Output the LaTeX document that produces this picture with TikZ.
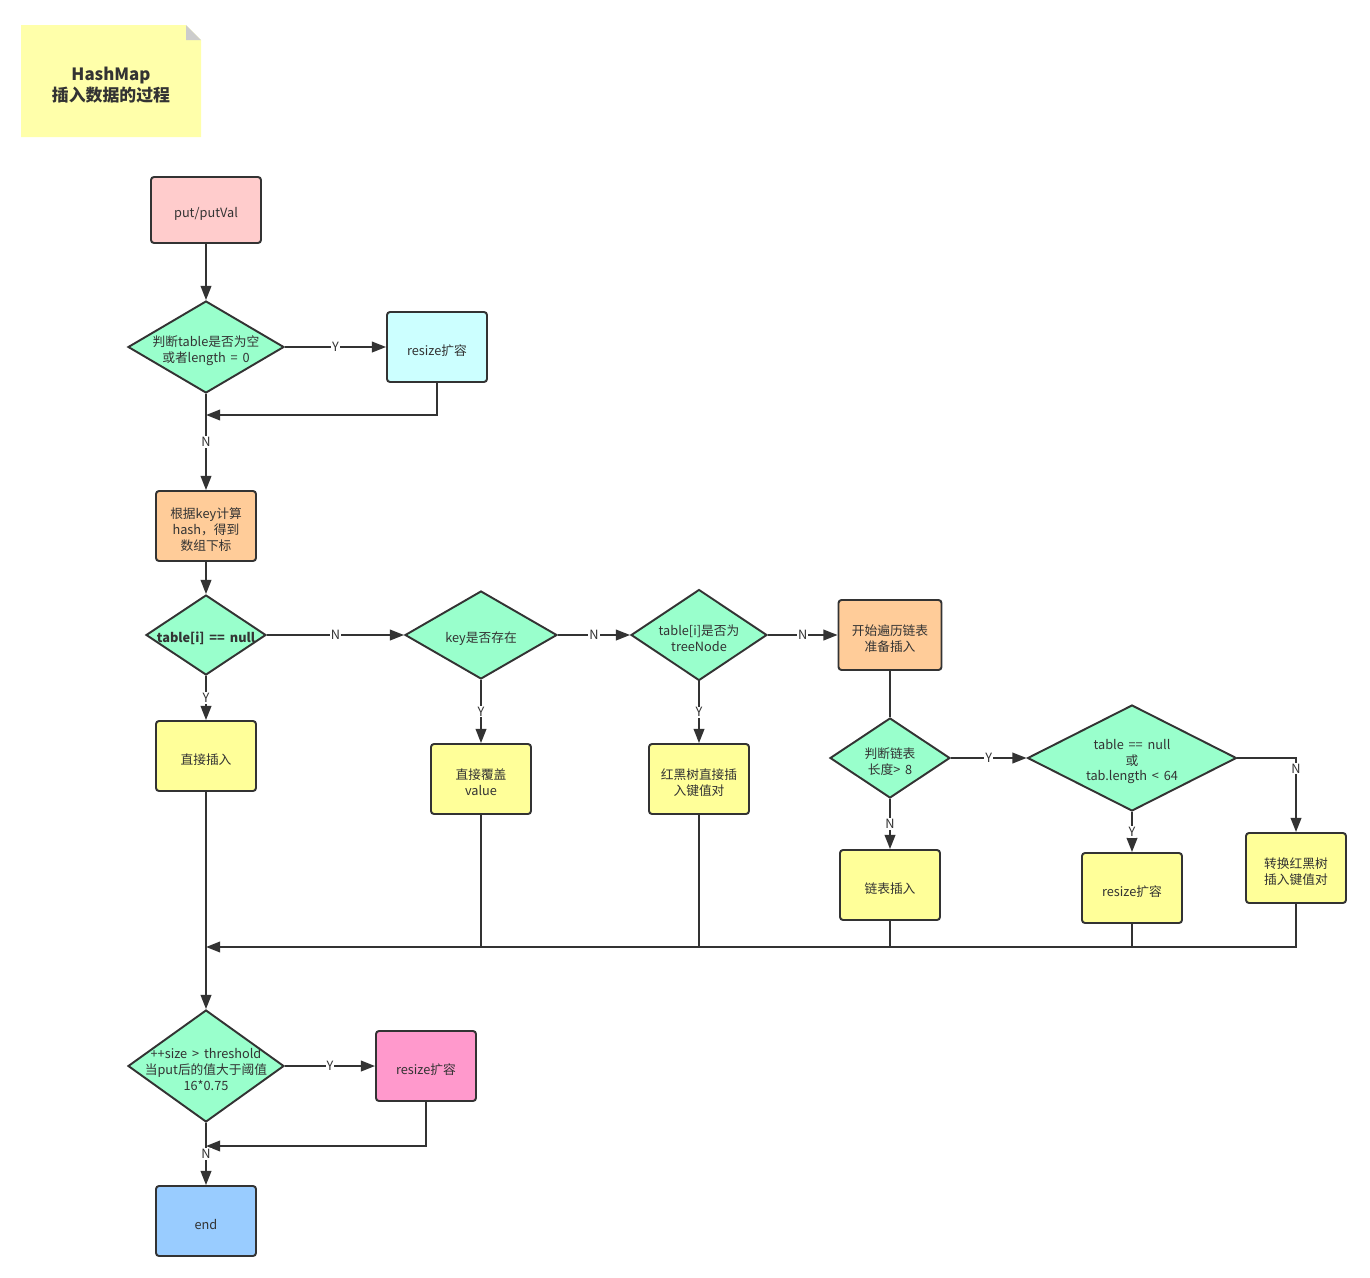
\documentclass[tikz,border=0pt]{standalone}
\usepackage{fontspec}
\setmainfont{Noto Sans CJK SC}[WordSpace=1.7]
\usetikzlibrary{shapes.geometric,arrows.meta}

\definecolor{ink}{HTML}{333333}
\definecolor{notey}{HTML}{FFFFAA}
\definecolor{fold}{HTML}{CCCCCC}
\definecolor{pinkl}{HTML}{FFCCCC}
\definecolor{mint}{HTML}{99FFCC}
\definecolor{cyanl}{HTML}{CCFFFF}
\definecolor{orangel}{HTML}{FFCC99}
\definecolor{yellowl}{HTML}{FFFF99}
\definecolor{rose}{HTML}{FF99CC}
\definecolor{bluel}{HTML}{99CCFF}

\newcommand{\fsz}{\fontsize{7.25}{9.1}\selectfont}

\tikzset{
  box/.style={rectangle, draw=ink, line width=1.1pt, rounded corners=1.7pt,
    minimum width=2cm, minimum height=1.4cm, inner sep=0pt},
  decision/.style={diamond, draw=ink, line width=1.1pt, fill=mint, inner sep=0pt},
  dtext/.style={align=center, text=ink, font=\fsz, inner sep=0pt, yshift=-2pt},
  arr/.style={-{Triangle[length=8pt,width=6pt]}, draw=ink, line width=1.1pt},
  line/.style={draw=ink, line width=1.1pt},
  lbl/.style={fill=white, text=ink, font=\fsz, inner sep=0.6pt}
}

\begin{document}
\begin{tikzpicture}[x=0.02cm, y=-0.02cm]
\useasboundingbox (0,0) rectangle (1370,1278);

% title note
\fill[notey] (21,25) -- (186,25) -- (201,40) -- (201,137) -- (21,137) -- cycle;
\fill[fold] (186,25) -- (201,40) -- (186,40) -- cycle;
\node[font=\bfseries\fontsize{9.6}{12}\selectfont, text=ink, align=center] (title) at (111,85) {HashMap\\插入数据的过程};

% main column
\node[box, fill=pinkl, minimum width=2.2cm, minimum height=1.32cm,
  label={[dtext]center:{put/putVal}}] (put) at (206,210) {};
\node[decision, minimum width=3.12cm, minimum height=1.84cm,
  label={[dtext]center:{判断table是否为空\\或者length = 0}}] (empty) at (206,347) {};
\node[box, fill=cyanl, label={[dtext]center:{resize扩容}}] (resa) at (437,347) {};
\node[box, fill=orangel,
  label={[dtext]center:{根据key计算\\hash，得到\\数组下标}}] (hash) at (206,526) {};
\node[decision, minimum width=2.4cm, minimum height=1.6cm,
  label={[dtext, font=\fsz\bfseries]center:{table[i] == null}}] (isnull) at (206,635) {};
\node[box, fill=yellowl, label={[dtext]center:{直接插入}}] (direct) at (206,756) {};

% checks on the bucket
\node[decision, minimum width=3.04cm, minimum height=1.76cm,
  label={[dtext]center:{key是否存在}}] (haskey) at (481,635) {};
\node[decision, minimum width=2.72cm, minimum height=1.82cm,
  label={[dtext]center:{table[i]是否为\\treeNode}}] (istree) at (699,635) {};
\node[box, fill=orangel, minimum width=2.06cm,
  label={[dtext]center:{开始遍历链表\\准备插入}}] (walk) at (890,635) {};
\node[box, fill=yellowl, label={[dtext]center:{直接覆盖\\value}}] (cover) at (481,779) {};
\node[box, fill=yellowl, label={[dtext]center:{红黑树直接插\\入键值对}}] (treeins) at (699,779) {};

% list branch
\node[decision, minimum width=2.4cm, minimum height=1.6cm,
  label={[dtext]center:{判断链表\\长度> 8}}] (long) at (890,758) {};
\node[decision, minimum width=4.18cm, minimum height=2.12cm,
  label={[dtext]center:{table == null\\或\\tab.length < 64}}] (small) at (1132,758) {};
\node[box, fill=yellowl, label={[dtext]center:{链表插入}}] (listins) at (890,885) {};
\node[box, fill=yellowl, label={[dtext]center:{resize扩容}}] (resb) at (1132,888) {};
\node[box, fill=yellowl, label={[dtext]center:{转换红黑树\\插入键值对}}] (totree) at (1296,868) {};

% size check
\node[decision, minimum width=3.12cm, minimum height=2.24cm,
  label={[dtext]center:{++size > threshold\\当put后的值大于阈值\\16*0.75}}] (big) at (206,1066) {};
\node[box, fill=rose, label={[dtext]center:{resize扩容}}] (resc) at (426,1066) {};
\node[box, fill=bluel, label={[dtext]center:{end}}] (stop) at (206,1221) {};

\coordinate (ja) at (206,415);
\coordinate (jb) at (206,947);
\coordinate (jc) at (206,1146);

\draw[arr] (put) -- (empty);
\draw[arr] (empty) -- node[lbl]{Y} (resa);
\draw[arr] (resa.south) |- (ja);
\draw[arr] (empty) -- node[lbl]{N} (hash);
\draw[arr] (hash) -- (isnull);
\draw[arr] (isnull) -- node[lbl]{Y} (direct);
\draw[arr] (isnull) -- node[lbl]{N} (haskey);
\draw[arr] (haskey) -- node[lbl]{N} (istree);
\draw[arr] (istree) -- node[lbl]{N} (walk);
\draw[arr] (haskey) -- node[lbl]{Y} (cover);
\draw[arr] (istree) -- node[lbl]{Y} (treeins);
\draw[line] (walk) -- (long);
\draw[arr] (long) -- node[lbl]{Y} (small);
\draw[arr] (long) -- node[lbl]{N} (listins);
\draw[arr] (small) -- node[lbl]{Y} (resb);
\draw[arr] (small.east) -| node[lbl, pos=0.57]{N} (totree.north);

% back to the main column
\draw[arr] (totree.south) |- (jb);
\draw[line] (resb.south) -- (resb.south |- jb);
\draw[line] (listins.south) -- (listins.south |- jb);
\draw[line] (treeins.south) -- (treeins.south |- jb);
\draw[line] (cover.south) -- (cover.south |- jb);
\draw[arr] (direct) -- (big);
\draw[arr] (big) -- node[lbl]{Y} (resc);
\draw[arr] (resc.south) |- (jc);
\draw[arr] (big) -- node[lbl]{N} (stop);
\end{tikzpicture}
\end{document}
